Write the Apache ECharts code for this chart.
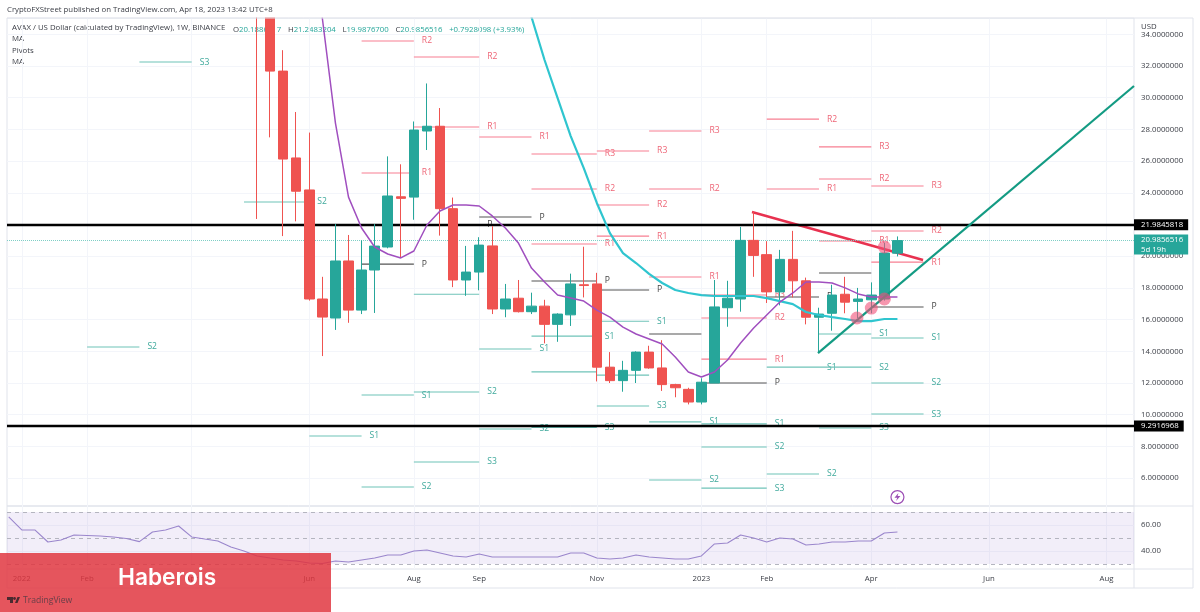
<!DOCTYPE html>
<html><head><meta charset="utf-8">
<style>html,body{margin:0;padding:0;background:#fff}#c{width:1200px;height:612px}</style>
<script src="https://cdn.jsdelivr.net/npm/echarts@6/dist/echarts.min.js"></script>
</head><body><div id="c"></div>
<script>
const weekIndex = [0,1,2,3,4,5,6,7,8,9,10,11,12,13,14,15,16,17,18,19,20,21,22,23,24,25,26,27,28,29,30,31,32,33,34,35,36,37,38,39,40,41,42,43,44,45,46,47,48,49];
const opens  = [46,38,31.68,26.2,24.18,17.3,16.1,19.7,16.6,19.13,20.58,23.75,23.73,27.9,28.2,23,18.5,19,20.65,16.67,17.35,16.5,16.85,15.7,16.3,18.2,18.25,13,12.15,12.8,13.95,12.95,11.9,11.6,10.8,12,16.75,17.3,21,20.1,17.75,19.8,18.45,16.15,16.4,17.6,17.15,17.25,17.3,20.1887];
const closes = [38,31.68,26.13,24.1,17.3,16.16,19.7,16.6,19.13,20.64,23.8,23.65,27.96,28.2,23,18.5,19,20.7,16.67,17.3,16.5,16.85,15.7,16.35,18.25,18.15,13,12.15,12.8,13.95,12.95,11.9,11.7,10.8,12.05,16.8,17.35,21,20.05,17.75,19.8,18.45,16.15,16.35,17.55,17.1,17.3,17.55,20.2,20.9857];
const lows   = [22.35,27.5,21.27,22.2,17.2,13.7,15.35,15.8,16.35,16.42,20.5,19.9,22.3,26.7,21.3,18.05,17.5,17.85,16.35,16.15,16.45,16.35,14.5,14.6,15.6,17.4,12.1,12,11.45,12,12.9,11.5,11.1,10.65,10.65,12,15.55,16.5,18.7,17.05,16.9,17.4,15.7,13.9,15.3,16.4,16.1,16.4,17.2,19.9877];
const highs  = [50,39,33,29.1,27.8,18.7,22.03,21.34,21,22.03,26.3,25.8,28.5,30.9,29.35,23.7,20.65,21.2,21.9,18.25,18.5,17.7,17.25,16.4,18.9,20.6,18.95,13.95,13.4,14,14.35,14.7,11.95,11.7,12.3,18.5,18.45,21.85,22.8,20.95,20.4,21.6,18.65,16.75,18.2,18.7,18,18.35,20.85,21.2483];

const maFastStart = 4;
const maFast = [42,35,28.4,23.73,21.78,20.58,20.14,19.89,20.33,21.97,22.85,23.23,23.23,23.17,22.54,21.78,20.83,19.25,18.37,17.55,17.36,17.17,16.6,16.16,15.53,15.09,14.78,14.46,13.64,12.69,12.38,12.69,13.45,14.52,15.47,16.29,17.11,17.68,18.37,18.37,18.31,18,17.62,17.43,17.43,17.43];
const maSlowStart = 20;
const maSlow = [39,35.09,32.38,29.98,27.58,25.56,23.36,21.46,20.2,19.57,18.88,18.31,17.87,17.68,17.55,17.49,17.49,17.49,17.49,17.36,17.17,16.98,16.48,16.29,16.16,16.04,15.91,15.91,16.04,16.04];

const rsiStart = -19;
const rsiValues = [66.2,56.2,56.2,46.9,48.5,52.3,51.9,51.5,50.8,49.6,47.2,54.6,56.2,59.2,50.8,49.2,47.7,43.1,40,36.2,34.6,33.1,32.3,30.8,30.4,32.3,31.5,33.1,34.6,36.9,36.9,40,40.8,38.5,36.2,35.4,37.7,35.4,35.4,35.4,35.4,35.4,35.4,38.5,38.5,34.6,33.8,34.6,36.9,35.4,34.6,33.8,33.8,36.2,45.4,46.2,52.3,50,46.9,50,49.2,44.6,45.4,46.9,46.9,47.7,47.7,53.8,54.6];

// pivot segments: [from week, to week, price]
const pivotResistance = [
 [8,12,33.58],[12,17,32.57],[12,17,28.15],[17,21,27.52],[21,26,26.45],[26,30,26.64],[30,34,27.9],[39,43,28.65],[43,47,26.9],[43,47,24.87],[39,43,24.24],[47,51,24.43],[47,51,21.59],[30,34,24.24],[26,30,23.23],[21,26,24.24],[26,30,21.27],[21,26,20.77],[30,34,18.69],[8,12,25.25],[34,39,17.55],[34,39,16.1],[34,39,13.51],[47,51,19.63],[43,47,20.96]];
const pivotResistanceLabels = ['R2','R2','R1','R1','R3','R3','R3','R2','R3','R2','R1','R3','R2','R2','R2','R2','R1','R1','R1','R1','R3','R2','R1','R1','R1'];
const pivotSupport = [
 [-9,-5,32.25],[-13,-9,14.27],[-1,4,23.42],[17,21,14.15],[12,17,17.6],[12,17,11.43],[8,12,11.24],[4,8,8.66],[17,21,9.1],[21,26,14.96],[21,26,12.7],[26,30,10.55],[26,30,15.9],[26,30,12.5],[21,26,9.2],[30,34,9.55],[34,39,9.42],[34,39,7.96],[34,39,5.37],[30,34,5.88],[39,43,6.26],[43,47,9.16],[47,51,10.04],[47,51,12],[47,51,14.84],[43,47,15.09],[39,43,13],[43,47,13],[12,17,7.02],[8,12,5.44]];
const pivotSupportLabels = ['S3','S2','S2','S1','S1','S2','S1','S1','S2','S1','S2','S3','S1','S2','S3','S1','S1','S2','S3','S2','S2','S3','S3','S2','S1','S1','S1','S2','S3','S2'];
const pivotCentre = [[8,12,19.5],[17,21,22.47],[12,17,21.97],[21,26,18.44],[26,30,17.87],[30,34,15.09],[34,39,12],[39,43,17.43],[47,51,16.8],[43,47,18.94]];
const pivotCentreLabels = ['P','P','P','P','P','P','P','P','P','P'];

const resistanceLine = [[37.87,22.79],[50.96,19.76]];
const supportLine = [[42.92,13.89],[67.1,30.74]];
const touchPoints = [[45.9,16.1],[47,16.73],[48,17.3],[48,20.58]];
const alertPoint = [[49,4.8]];
const levelValues = [21.9845818,9.2916968];
const lastPrice = 20.9856516;
const countdown = '5d 19h';

const monthTicks  = [-18,-13,-5,4,12,17,26,34,39,47,56,65];
const monthLabels = ['2022','Feb','Apr','Jun','Aug','Sep','Nov','2023','Feb','Apr','Jun','Aug'];
const priceTicks = [6,8,10,12,14,16,18,20,22,24,26,28,30,32,34];
const rsiTicks = [40,60];
const rsiLevels = [70,50,30];

const X_MIN=-19.13, X_MAX=67.1;
const FAMILY='"Open Sans", sans-serif';
const FS=7.8;
const FONT=FS+'px '+FAMILY;
const GRID='#f3f5fa', BORDER='#e0e3eb', TEXT='#3a3d45';
const TEAL='#26a69a', RED='#ef5350';

function pivotSeries(rows, labels, color, textColor){
  return {type:'custom',xAxisIndex:0,yAxisIndex:0,z:1,silent:true,clip:true,
    encode:{x:[0,1],y:2},data:rows,
    renderItem(params,api){
      const a=api.coord([api.value(0),api.value(2)]);
      const b=api.coord([api.value(1),api.value(2)]);
      return {type:'group',children:[
        {type:'line',shape:{x1:a[0],y1:a[1],x2:b[0],y2:b[1]},style:{stroke:color,lineWidth:1.1}},
        {type:'text',style:{x:b[0]+8,y:b[1],text:labels[params.dataIndex],fill:textColor,font:'8.6px '+FAMILY,textAlign:'left',textVerticalAlign:'middle'}}
      ]};
    }};
}
const tagLabel={show:true,position:'end',distance:0,color:'#fff',fontSize:FS,fontFamily:FAMILY,align:'left'};

const chart=echarts.init(document.getElementById('c'),null,{renderer:'canvas'});
chart.setOption({
  animation:false,
  backgroundColor:'#fff',
  grid:[
    {left:7,top:18,width:1127,height:488,show:true,borderColor:BORDER,borderWidth:1,containLabel:false},
    {left:7,top:506,width:1127,height:63,show:true,borderColor:BORDER,borderWidth:1,containLabel:false}
  ],
  xAxis:[
    {type:'value',gridIndex:0,min:X_MIN,max:X_MAX,
     axisLine:{show:false},axisLabel:{show:false},
     axisTick:{show:true,length:0,customValues:monthTicks,lineStyle:{color:'transparent'}},
     splitLine:{show:true,lineStyle:{color:GRID,width:1}}},
    {type:'value',gridIndex:1,min:X_MIN,max:X_MAX,
     axisLine:{show:false},
     axisTick:{show:true,length:0,customValues:monthTicks,lineStyle:{color:'transparent'}},
     splitLine:{show:true,lineStyle:{color:GRID,width:1}},
     axisLabel:{show:true,customValues:monthTicks,margin:6,color:TEXT,fontSize:FS,fontFamily:FAMILY,
       formatter:v=>monthLabels[monthTicks.indexOf(v)]||''}}
  ],
  yAxis:[
    {type:'value',gridIndex:0,position:'right',min:4.24,max:35.03,scale:true,
     axisLine:{show:false},
     axisTick:{show:true,length:0,customValues:priceTicks,lineStyle:{color:'transparent'}},
     splitLine:{show:true,lineStyle:{color:GRID,width:1}},
     axisLabel:{show:true,customValues:priceTicks,margin:7,color:TEXT,fontSize:FS,fontFamily:FAMILY,formatter:v=>v.toFixed(7)}},
    {type:'value',gridIndex:1,position:'right',min:26.15,max:74.6,scale:true,
     axisLine:{show:false},
     axisTick:{show:true,length:0,customValues:rsiTicks,lineStyle:{color:'transparent'}},
     splitLine:{show:true,lineStyle:{color:GRID,width:1}},
     axisLabel:{show:true,customValues:rsiTicks,margin:7,color:TEXT,fontSize:FS,fontFamily:FAMILY,formatter:v=>v.toFixed(2)}}
  ],
  series:[
    pivotSeries(pivotResistance,pivotResistanceLabels,'#f77f92','#ee6677'),
    pivotSeries(pivotSupport,pivotSupportLabels,'#6fc3b8','#3fa99c'),
    pivotSeries(pivotCentre,pivotCentreLabels,'#555','#444'),
    {type:'line',name:'Resistance',xAxisIndex:0,yAxisIndex:0,z:3,silent:true,symbol:'none',data:resistanceLine,
     lineStyle:{color:'#e8314f',width:2.4}},
    {type:'candlestick',name:'AVAX',xAxisIndex:0,yAxisIndex:0,z:5,silent:true,barWidth:10,
     data:weekIndex.map((w,k)=>[w,opens[k],closes[k],lows[k],highs[k]]),
     itemStyle:{color:TEAL,color0:RED,borderColor:TEAL,borderColor0:RED,borderWidth:1}},
    {type:'line',name:'MA slow',xAxisIndex:0,yAxisIndex:0,z:6,silent:true,symbol:'none',
     data:maSlow.map((v,k)=>[maSlowStart+k,v]),lineStyle:{color:'#2fc5cf',width:2.2}},
    {type:'line',name:'MA fast',xAxisIndex:0,yAxisIndex:0,z:6,silent:true,symbol:'none',
     data:maFast.map((v,k)=>[maFastStart+k,v]),lineStyle:{color:'#a04fbf',width:1.5},
     markLine:{silent:true,symbol:'none',animation:false,data:[
       {yAxis:levelValues[0],lineStyle:{color:'#000',width:2.4,type:'solid'},
        label:{...tagLabel,formatter:levelValues[0].toFixed(7),backgroundColor:'#000',padding:[2,5,1,7]}},
       {yAxis:levelValues[1],lineStyle:{color:'#000',width:2.4,type:'solid'},
        label:{...tagLabel,formatter:levelValues[1].toFixed(7),backgroundColor:'#000',padding:[2,5,1,7]}},
       {yAxis:lastPrice,lineStyle:{color:'#7fcfc6',width:1,type:'dotted'},
        label:{...tagLabel,formatter:lastPrice.toFixed(7)+'\n'+countdown,backgroundColor:TEAL,padding:[1,5,0,7],lineHeight:9.5,offset:[0,4]}}
     ]}},
    {type:'line',name:'Support',xAxisIndex:0,yAxisIndex:0,z:7,silent:true,symbol:'none',data:supportLine,
     lineStyle:{color:'#139b83',width:2.2}},
    {type:'scatter',name:'Touches',xAxisIndex:0,yAxisIndex:0,z:8,silent:true,symbol:'circle',symbolSize:13,data:touchPoints,
     itemStyle:{color:'rgba(240,80,120,0.6)',opacity:1}},
    {type:'scatter',name:'Alert',xAxisIndex:0,yAxisIndex:0,z:8,silent:true,symbol:'circle',symbolSize:13,data:alertPoint,
     itemStyle:{color:'#fff',borderColor:'#9c4fb5',borderWidth:1.2,opacity:1}},
    {type:'scatter',name:'Alert bolt',xAxisIndex:0,yAxisIndex:0,z:9,silent:true,symbol:'path://M13 0 L3 14 H10 L7 24 L18 9 H11 Z',symbolSize:[6,8],data:alertPoint,
     itemStyle:{color:'#9c4fb5',opacity:1}},
    {type:'line',name:'RSI',xAxisIndex:1,yAxisIndex:1,z:6,silent:true,symbol:'none',
     data:rsiValues.map((v,k)=>[rsiStart+k,v]),lineStyle:{color:'#9a86cc',width:1.1},
     markArea:{silent:true,itemStyle:{color:'rgba(126,87,194,0.1)'},data:[[{yAxis:rsiLevels[2]},{yAxis:rsiLevels[0]}]]},
     markLine:{silent:true,symbol:'none',label:{show:false},lineStyle:{color:'#b4b5bf',type:[4,4],width:1},
       data:rsiLevels.map(v=>({yAxis:v}))}}
  ],
  graphic:[
    {type:'text',z:0,left:12,top:24,style:{text:'AVAX / US Dollar (calculated by TradingView), 1W, BINANCE',fill:TEXT,font:FONT}},
    {type:'text',z:0,left:233,top:24,style:{rich:{k:{fill:TEXT,font:FONT},v:{fill:TEAL,font:FONT}},
      text:'{k|O}{v|20.1886517}  {k|H}{v|21.2483204}  {k|L}{v|19.9876700}  {k|C}{v|20.9856516}  {v|+0.7928098 (+3.93%)}'}},
    {type:'text',z:0,left:12,top:35,style:{text:'MA',fill:TEXT,font:FONT}},
    {type:'text',z:0,left:12,top:47,style:{text:'Pivots',fill:TEXT,font:FONT}},
    {type:'text',z:0,left:12,top:58,style:{text:'MA',fill:TEXT,font:FONT}},
    {type:'rect',z:20,shape:{x:0,y:0,width:1200,height:17.5},style:{fill:'#fff'}},
    {type:'rect',z:20,shape:{x:1135,y:18.5,width:57,height:13.5},style:{fill:'#fff'}},
    {type:'line',z:21,shape:{x1:7,y1:18,x2:1193,y2:18},style:{stroke:BORDER,lineWidth:1}},
    {type:'line',z:21,shape:{x1:1193,y1:18,x2:1193,y2:588},style:{stroke:BORDER,lineWidth:1}},
    {type:'line',z:21,shape:{x1:7,y1:588,x2:1193,y2:588},style:{stroke:BORDER,lineWidth:1}},
    {type:'line',z:21,shape:{x1:7,y1:569,x2:7,y2:588},style:{stroke:BORDER,lineWidth:1}},
    {type:'line',z:21,shape:{x1:1134,y1:569,x2:1134,y2:588},style:{stroke:BORDER,lineWidth:1}},
    {type:'line',z:21,shape:{x1:1134,y1:506,x2:1193,y2:506},style:{stroke:BORDER,lineWidth:1}},
    {type:'line',z:21,shape:{x1:1134,y1:569,x2:1193,y2:569},style:{stroke:BORDER,lineWidth:1}},
    {type:'text',z:22,left:7,top:6,style:{text:'CryptoFXStreet published on TradingView.com, Apr 18, 2023 13:42 UTC+8',fill:TEXT,font:FONT}},
    {type:'text',z:22,left:1141,top:23,style:{text:'USD',fill:TEXT,font:FONT}},
    {type:'rect',z:1000,shape:{x:0,y:553,width:331,height:59},style:{fill:'rgba(224,52,62,0.84)'}},
    {type:'text',z:1001,left:118,top:567,style:{text:'Haberois',fill:'#fff',font:'600 22.7px Inter, sans-serif'}},
    {type:'text',z:1001,left:23,top:596,style:{text:'TradingView',fill:'rgba(90,60,70,0.9)',font:'8.6px '+FAMILY}},
    {type:'polygon',z:1001,shape:{points:[[7,597],[13,597],[13,603],[10,603],[10,600],[7,600]]},style:{fill:'#4a2a30'}},
    {type:'circle',z:1001,shape:{cx:14.5,cy:598.5,r:1.4},style:{fill:'#4a2a30'}},
    {type:'polygon',z:1001,shape:{points:[[15,603],[17.5,597],[20,597],[17.5,603]]},style:{fill:'#4a2a30'}}
  ]
});
</script></body></html>
